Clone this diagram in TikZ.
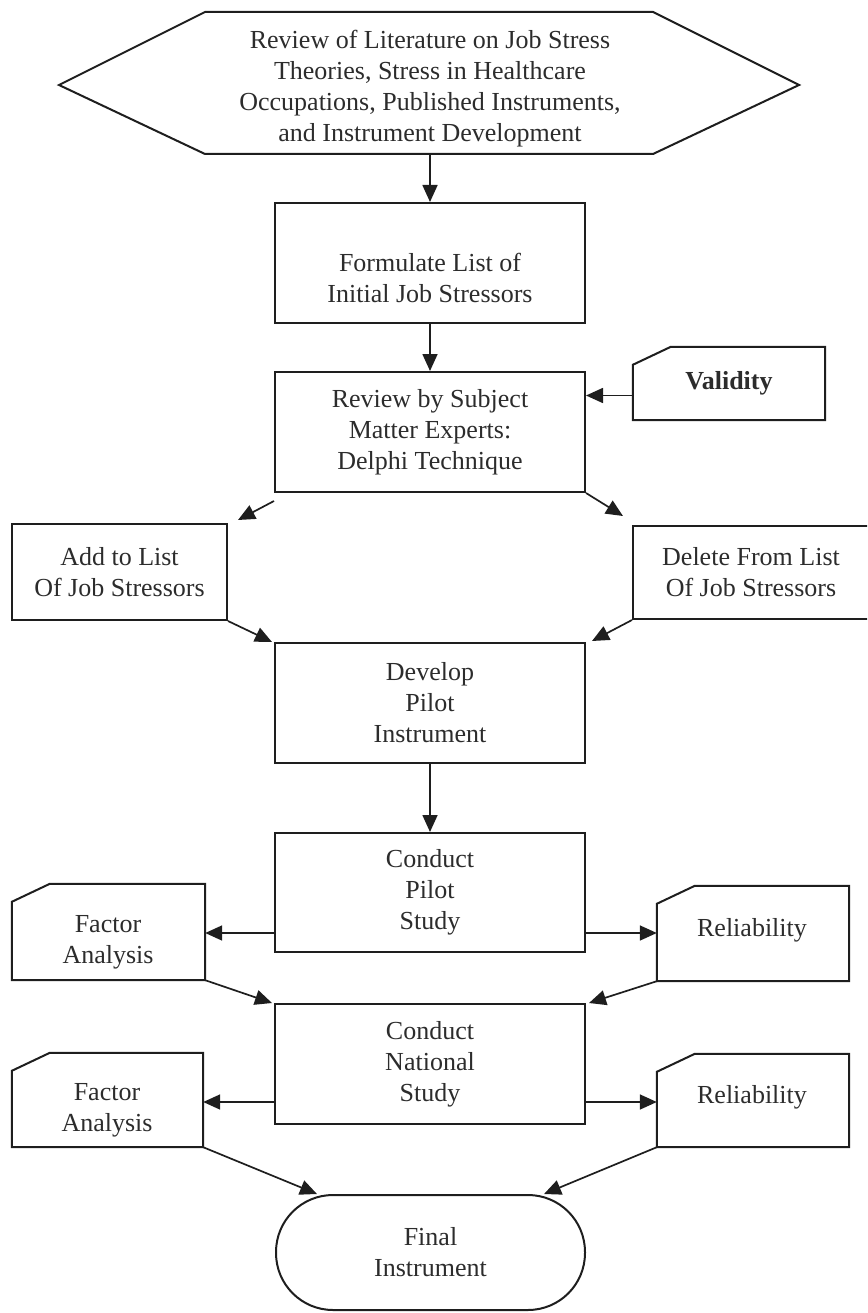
\documentclass[tikz,border=0pt]{standalone}
\usepackage{fontspec}
\setmainfont{Liberation Serif}
\usetikzlibrary{arrows.meta}
\definecolor{ink}{HTML}{1e1e1e}
\definecolor{txt}{HTML}{2c2c2c}
\newcommand\cardoutline[1]{\draw[line] ([yshift=-18pt]#1.north west) -- ([xshift=38pt]#1.north west) -- (#1.north east) -- (#1.south east) -- (#1.south west) -- cycle;}
\begin{document}
\begin{tikzpicture}[x=1pt,y=-1pt,
  every node/.style={font=\fontsize{26}{31}\selectfont, text=txt, align=center},
  line/.style={draw=ink, line width=2pt, line join=miter},
  conn/.style={draw=ink, line width=1.7pt, -{Triangle[length=17pt,width=15pt]}},
  procbox/.style={line, rectangle, minimum width=310pt, minimum height=120pt, inner sep=0pt},
  sidebox/.style={line, rectangle, inner sep=0pt},
  cardbox/.style={rectangle, inner sep=0pt},
  plain/.style={inner sep=0pt}
]
\useasboundingbox (0,0) rectangle (867,1313);
\begin{scope}
\clip (0,0) rectangle (867,1313);
% hexagon
\node[plain] (hex) at (430,89) {Review of Literature on Job Stress\\Theories, Stress in Healthcare\\Occupations, Published Instruments,\\and Instrument Development};
\draw[line] (59,85) -- (205,12) -- (653,12) -- (799,85) -- (653,154) -- (205,154) -- cycle;
\coordinate (hexS) at (430,154);

% main boxes
\node[procbox] (b1) at (430,263) {};
\node[plain] (b1t) at (430,278) {Formulate List of\\Initial Job Stressors};
\node[procbox] (b2) at (430,432) {Review by Subject\\Matter Experts:\\Delphi Technique};
\node[procbox] (b3) at (430,703) {Develop\\Pilot\\Instrument};
\node[procbox, minimum height=119pt] (b4) at (430,892.5) {Conduct\\Pilot\\Study};
\node[procbox] (b5) at (430,1064) {Conduct\\National\\Study};
\node[line, rectangle, rounded corners=57pt, minimum width=309pt, minimum height=115pt, inner sep=0pt] (fin) at (430.5,1252.5) {Final\\Instrument};

% side boxes
\node[sidebox, minimum width=215pt, minimum height=96pt] (add) at (119.5,572) {Add to List\\Of Job Stressors};
\node[sidebox, minimum width=236pt, minimum height=93pt] (del) at (751,572.5) {Delete From List\\Of Job Stressors};

% cards
\node[cardbox, minimum width=192pt, minimum height=73pt, font=\fontsize{26}{31}\selectfont\bfseries] (val) at (729,383.5) {Validity};
\cardoutline{val}
\node[cardbox, minimum width=193pt, minimum height=96pt] (fa1) at (108.5,932) {};
\cardoutline{fa1}
\node[plain] (fa1t) at (108,942) {Factor\\Analysis};
\node[cardbox, minimum width=192pt, minimum height=95pt] (rel1) at (753,933.5) {};
\cardoutline{rel1}
\node[plain] (rel1t) at (752,930) {Reliability};
\node[cardbox, minimum width=191pt, minimum height=94pt] (fa2) at (107.5,1100) {};
\cardoutline{fa2}
\node[plain] (fa2t) at (107,1110) {Factor\\Analysis};
\node[cardbox, minimum width=192pt, minimum height=93pt] (rel2) at (753,1100.5) {};
\cardoutline{rel2}
\node[plain] (rel2t) at (752,1097) {Reliability};

% connectors
\draw[conn] (hexS) -- (b1.north);
\draw[conn] (b1.south) -- (b2.north);
\draw[conn] ([yshift=-12pt]val.west) -- ([yshift=-12pt]val.west -| b2.east);
\draw[conn] ([yshift=-8pt]b2.south west) -- ([xshift=10pt,yshift=3pt]add.north east);
\draw[conn] (b2.south east) -- ([xshift=-9pt,yshift=9pt]del.north west);
\draw[conn] (add.south east) -- ([xshift=-2pt]b3.north west);
\draw[conn] (del.south west) -- ([xshift=6pt,yshift=1pt]b3.north east);
\draw[conn] (b3.south) -- (b4.north);
\draw[conn] ([yshift=-40.5pt]b4.west) -- ([yshift=-40.5pt]b4.west -| fa1.east);
\draw[conn] ([yshift=-40.5pt]b4.east) -- ([yshift=-40.5pt]b4.east -| rel1.west);
\draw[conn] (fa1.south east) -- ([xshift=-2pt]b5.north west);
\draw[conn] (rel1.south west) -- ([xshift=3pt]b5.north east);
\draw[conn] ([yshift=-38pt]b5.west) -- ([yshift=-38pt]b5.west -| fa2.east);
\draw[conn] ([yshift=-38pt]b5.east) -- ([yshift=-38pt]b5.east -| rel2.west);
\draw[conn] (fa2.south east) -- ([xshift=42pt]fin.north west);
\draw[conn] (rel2.south west) -- ([xshift=-42pt]fin.north east);
\end{scope}
\end{tikzpicture}
\end{document}
